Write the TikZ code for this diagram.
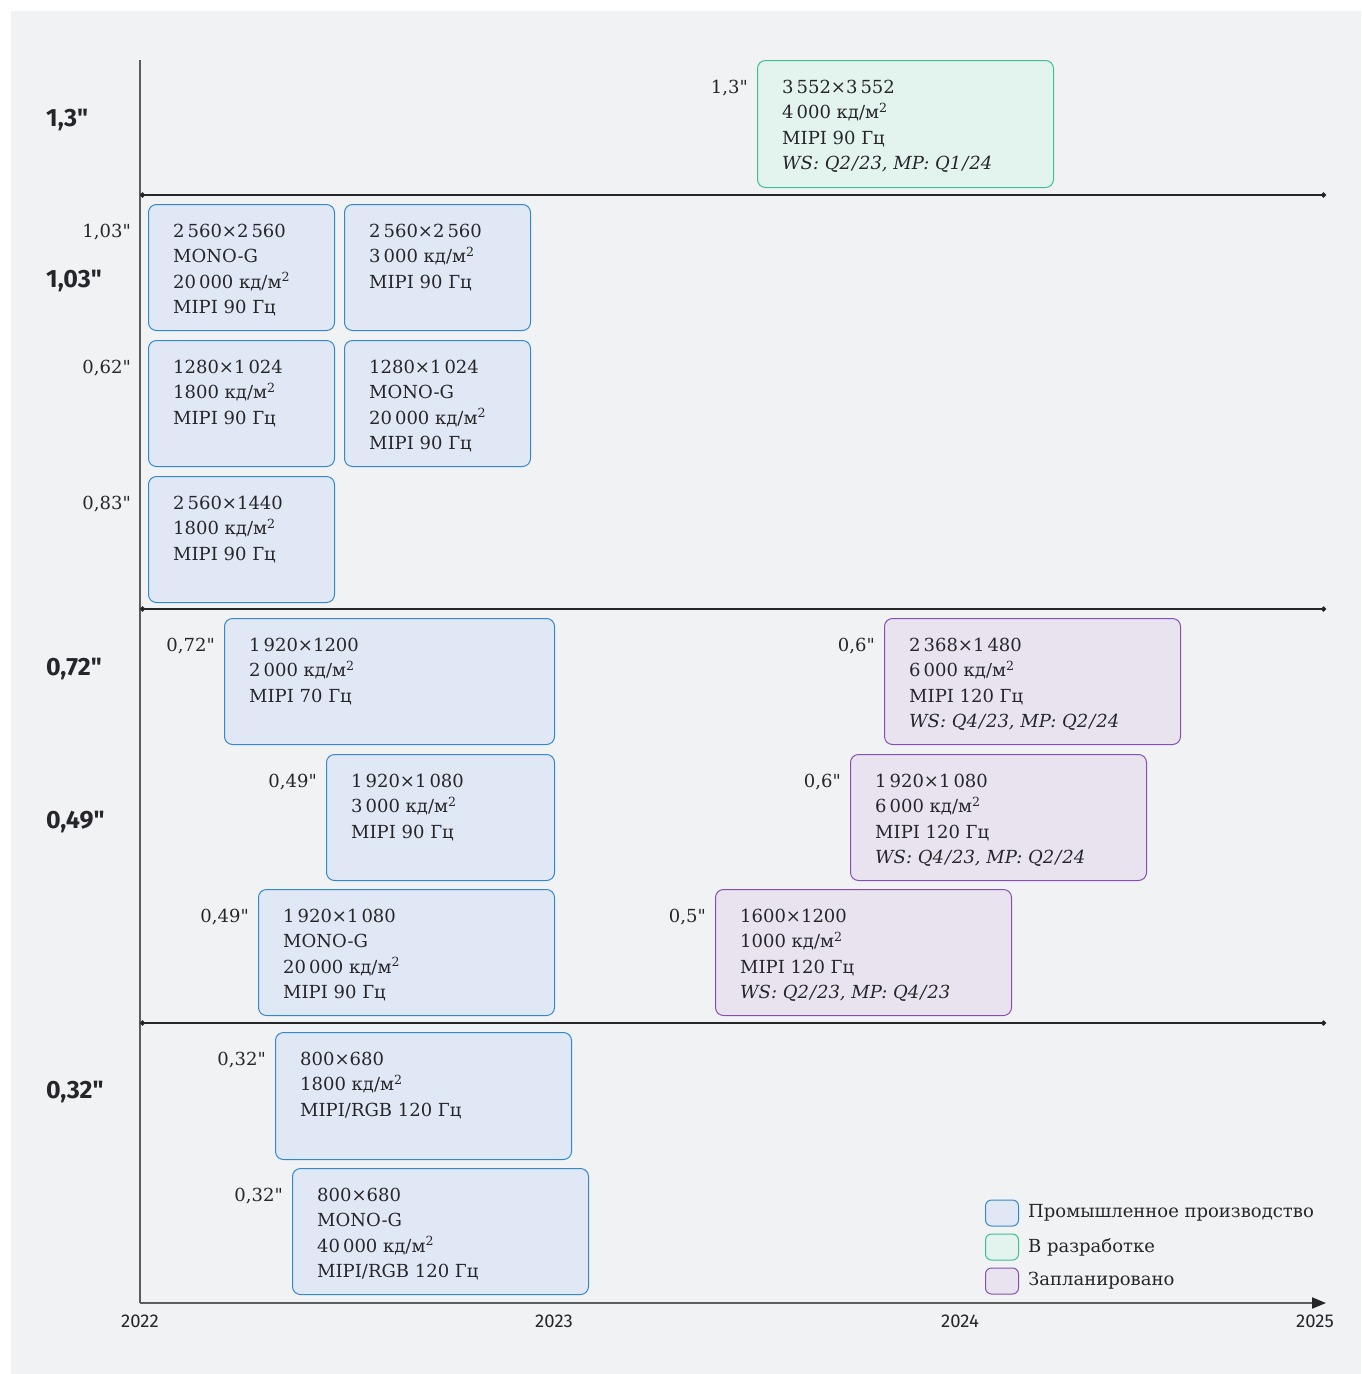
\documentclass[tikz,border=0pt]{standalone}
\usepackage{fontspec}
\setmainfont{DejaVu Serif}[Ligatures=TeXOff]
\setsansfont{Fira Sans}[Ligatures=TeXOff]
\usepackage{xcolor}
\definecolor{pagebg}{HTML}{F1F2F4}
\definecolor{inkdark}{HTML}{26262A}
\definecolor{axisgray}{HTML}{5C5C60}
\definecolor{prodfill}{HTML}{E1E8F5}
\definecolor{prodline}{HTML}{3588CE}
\definecolor{devfill}{HTML}{E3F3EE}
\definecolor{devline}{HTML}{3EBF95}
\definecolor{planfill}{HTML}{E9E3F0}
\definecolor{planline}{HTML}{8550B5}
\usetikzlibrary{arrows.meta, positioning, calc}
\newcommand{\cdm}{кд/м\textsuperscript{2}}

\begin{document}
\begin{tikzpicture}[
        x=1pt, y=-1pt,
        font=\fontsize{18}{25.3}\selectfont,
        text=inkdark,
        prod_box/.style={
            rectangle,
            rounded corners=8pt,
            draw=prodline,
            fill=prodfill,
            line width=1pt,
            anchor=north west,
            inner sep=0pt,
            minimum height=126pt
        },
        dev_box/.style={prod_box, draw=devline, fill=devfill},
        plan_box/.style={prod_box, draw=planline, fill=planfill},
        key_box/.style={minimum width=33pt, minimum height=26pt, rounded corners=6pt, anchor=center},
        spec_text/.style={anchor=north west, align=left, inner sep=0pt},
        size_tag/.style={anchor=north east, inner sep=0pt},
        group_tag/.style={anchor=west, inner sep=0pt, font=\sffamily\bfseries\fontsize{25}{28}\selectfont},
        year_tag/.style={inner sep=0pt, font=\sffamily\fontsize{18.5}{20}\selectfont},
        sep_line/.style={draw=inkdark, line width=1.3pt, {Circle[length=5pt]}-{Circle[length=5pt]}},
        axis_line/.style={draw=axisgray, line width=2pt}
    ]

    % Page
    \useasboundingbox (0,0) rectangle (1361,1374);
    \fill[white] (0,0) rectangle (1361,1374);
    \fill[pagebg] (11,11) rectangle (1361,1374);

    % Axes
    \coordinate (origin) at (140,1303);
    \coordinate (ytop) at (140,60);
    \coordinate (xend) at (1326,1303);
    \draw[axis_line] (ytop) -- (origin);
    \draw[axis_line, -{Triangle[length=14pt, width=11pt, color=inkdark]}] (origin) -- (xend);

    \node[year_tag] (y22) at (140,1321) {2022};
    \node[year_tag] (y23) at (554,1321) {2023};
    \node[year_tag] (y24) at (960,1321) {2024};
    \node[year_tag] (y25) at (1315,1321) {2025};

    % Group separators
    \coordinate (s1a) at (140,195);  \coordinate (s1b) at (1326,195);
    \coordinate (s2a) at (140,609);  \coordinate (s2b) at (1326,609);
    \coordinate (s3a) at (140,1023); \coordinate (s3b) at (1326,1023);
    \draw[sep_line] (s1a) -- (s1b);
    \draw[sep_line] (s2a) -- (s2b);
    \draw[sep_line] (s3a) -- (s3b);

    % Group labels
    \node[group_tag] (g130) at (46,120) {1,3"};
    \node[group_tag] (g103) at (46,281) {1,03"};
    \node[group_tag] (g072) at (46,669) {0,72"};
    \node[group_tag] (g049) at (46,822) {0,49"};
    \node[group_tag] (g032) at (46,1092) {0,32"};

    % 1,3" - in development
    \node[dev_box, minimum width=296pt, minimum height=127pt] (d1) at (757,60) {};
    \node[size_tag] (d1s) at ([xshift=-9pt, yshift=-20pt]d1.north west) {1,3"};
    \node[spec_text] (d1t) at ([xshift=25pt, yshift=-20pt]d1.north west) {3\,552×3\,552\\4\,000 \cdm\\MIPI 90 Гц\\\textit{WS: Q2\kern1pt/\kern1pt23, MP: Q1\kern1pt/\kern1pt24}};

    % 1,03" group - production
    \node[prod_box, minimum width=186pt] (m1) at (148,204) {};
    \node[size_tag] (m1s) at ([xshift=-17pt, yshift=-20pt]m1.north west) {1,03"};
    \node[spec_text] (m1t) at ([xshift=25pt, yshift=-20pt]m1.north west) {2\,560×2\,560\\MONO-G\\20\,000 \cdm\\MIPI 90 Гц};

    \node[prod_box, minimum width=186pt, right=9pt of m1.north east, anchor=north west] (m2) {};
    \node[spec_text] (m2t) at ([xshift=25pt, yshift=-20pt]m2.north west) {2\,560×2\,560\\3\,000 \cdm\\MIPI 90 Гц};

    \node[prod_box, minimum width=186pt, below=9pt of m1.south west, anchor=north west] (m3) {};
    \node[size_tag] (m3s) at ([xshift=-17pt, yshift=-20pt]m3.north west) {0,62"};
    \node[spec_text] (m3t) at ([xshift=25pt, yshift=-20pt]m3.north west) {1280×1\,024\\1800 \cdm\\MIPI 90 Гц};

    \node[prod_box, minimum width=186pt, right=9pt of m3.north east, anchor=north west] (m4) {};
    \node[spec_text] (m4t) at ([xshift=25pt, yshift=-20pt]m4.north west) {1280×1\,024\\MONO-G\\20\,000 \cdm\\MIPI 90 Гц};

    \node[prod_box, minimum width=186pt, below=9pt of m3.south west, anchor=north west] (m5) {};
    \node[size_tag] (m5s) at ([xshift=-17pt, yshift=-20pt]m5.north west) {0,83"};
    \node[spec_text] (m5t) at ([xshift=25pt, yshift=-20pt]m5.north west) {2\,560×1440\\1800 \cdm\\MIPI 90 Гц};

    % 0,72" / 0,49" group - production
    \node[prod_box, minimum width=330pt] (m6) at (224,618) {};
    \node[size_tag] (m6s) at ([xshift=-9pt, yshift=-20pt]m6.north west) {0,72"};
    \node[spec_text] (m6t) at ([xshift=25pt, yshift=-20pt]m6.north west) {1\,920×1200\\2\,000 \cdm\\MIPI 70 Гц};

    \node[prod_box, minimum width=228pt] (m7) at (326,754) {};
    \node[size_tag] (m7s) at ([xshift=-9pt, yshift=-20pt]m7.north west) {0,49"};
    \node[spec_text] (m7t) at ([xshift=25pt, yshift=-20pt]m7.north west) {1\,920×1\,080\\3\,000 \cdm\\MIPI 90 Гц};

    \node[prod_box, minimum width=296pt] (m8) at (258,889) {};
    \node[size_tag] (m8s) at ([xshift=-9pt, yshift=-20pt]m8.north west) {0,49"};
    \node[spec_text] (m8t) at ([xshift=25pt, yshift=-20pt]m8.north west) {1\,920×1\,080\\MONO-G\\20\,000 \cdm\\MIPI 90 Гц};

    % 0,72" / 0,49" group - planned
    \node[plan_box, minimum width=296pt] (p1) at (884,618) {};
    \node[size_tag] (p1s) at ([xshift=-9pt, yshift=-20pt]p1.north west) {0,6"};
    \node[spec_text] (p1t) at ([xshift=25pt, yshift=-20pt]p1.north west) {2\,368×1\,480\\6\,000 \cdm\\MIPI 120 Гц\\\textit{WS: Q4\kern1pt/\kern1pt23, MP: Q2\kern1pt/\kern1pt24}};

    \node[plan_box, minimum width=296pt] (p2) at (850,754) {};
    \node[size_tag] (p2s) at ([xshift=-9pt, yshift=-20pt]p2.north west) {0,6"};
    \node[spec_text] (p2t) at ([xshift=25pt, yshift=-20pt]p2.north west) {1\,920×1\,080\\6\,000 \cdm\\MIPI 120 Гц\\\textit{WS: Q4\kern1pt/\kern1pt23, MP: Q2\kern1pt/\kern1pt24}};

    \node[plan_box, minimum width=296pt] (p3) at (715,889) {};
    \node[size_tag] (p3s) at ([xshift=-9pt, yshift=-20pt]p3.north west) {0,5"};
    \node[spec_text] (p3t) at ([xshift=25pt, yshift=-20pt]p3.north west) {1600×1200\\1000 \cdm\\MIPI 120 Гц\\\textit{WS: Q2\kern1pt/\kern1pt23, MP: Q4\kern1pt/\kern1pt23}};

    % 0,32" group - production
    \node[prod_box, minimum width=296pt, minimum height=127pt] (m9) at (275,1032) {};
    \node[size_tag] (m9s) at ([xshift=-9pt, yshift=-20pt]m9.north west) {0,32"};
    \node[spec_text] (m9t) at ([xshift=25pt, yshift=-20pt]m9.north west) {800×680\\1800 \cdm\\MIPI/RGB 120 Гц};

    \node[prod_box, minimum width=296pt] (m10) at (292,1168) {};
    \node[size_tag] (m10s) at ([xshift=-9pt, yshift=-20pt]m10.north west) {0,32"};
    \node[spec_text] (m10t) at ([xshift=25pt, yshift=-20pt]m10.north west) {800×680\\MONO-G\\40\,000 \cdm\\MIPI/RGB 120 Гц};

    % Legend
    \node[prod_box, key_box] (k1) at (1002,1213) {};
    \node[dev_box, key_box] (k2) at (1002,1247) {};
    \node[plan_box, key_box] (k3) at (1002,1281) {};
    \node[anchor=west, inner sep=0pt, right=9pt of k1] (k1t) {Промышленное производство};
    \node[anchor=west, inner sep=0pt, right=9pt of k2] (k2t) {В разработке};
    \node[anchor=west, inner sep=0pt, right=9pt of k3] (k3t) {Запланировано};

    \end{tikzpicture}
\end{document}
